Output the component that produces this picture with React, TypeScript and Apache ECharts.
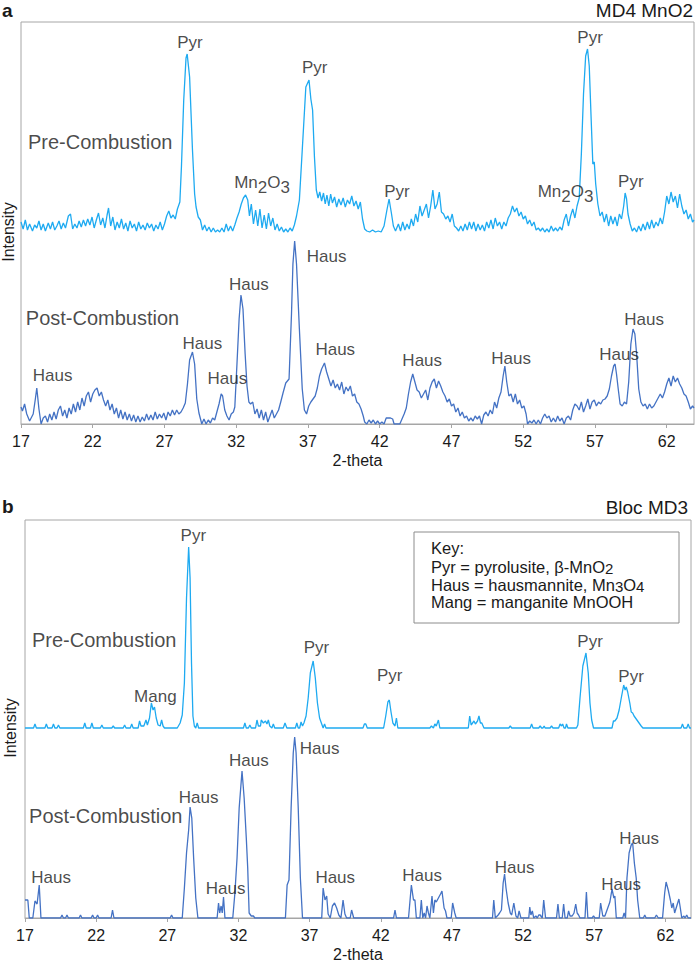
import React, { useEffect, useRef } from "react";
import * as echarts from "echarts";

// ---------- data ----------
const X_TICKS = [17, 22, 27, 32, 37, 42, 47, 52, 57, 62];
const PRE_OFFSET_A = 190;
const PRE_OFFSET_B = 190;

// Panel a – MD4 MnO2, pre-combustion (height above its own baseline)
const preA: number[][] = [
[17.0,12],[17.15,5],[17.3,14],[17.45,4],[17.6,10],[17.8,3],[17.95,9],[18.1,6],[18.25,13],[18.4,4],[18.55,10],[18.7,3],[18.9,11],[19.05,5],[19.2,12],[19.35,4],[19.5,8],[19.65,13],[19.8,5],[19.95,11],[20.1,6],[20.3,18],[20.45,20],[20.6,5],[20.75,10],[20.9,6],[21.05,13],[21.2,7],[21.35,14],[21.5,8],[21.65,15],[21.8,9],[21.95,17],[22.1,6],[22.25,14],[22.4,21],[22.55,9],[22.7,16],[22.85,6],[23.0,19],[23.1,26],[23.25,8],[23.4,17],[23.55,4],[23.7,12],[23.85,6],[24.0,15],[24.15,5],[24.3,11],[24.45,3],[24.6,13],[24.75,6],[24.9,10],[25.05,3],[25.2,12],[25.35,5],[25.5,9],[25.65,4],[25.8,11],[25.95,6],[26.1,10],[26.25,3],[26.4,9],[26.55,5],[26.7,12],[26.85,4],[27.0,10],[27.15,18],[27.3,23],[27.45,16],[27.6,19],[27.75,15],[27.9,25],[28.07,32],[28.18,67],[28.34,134],[28.5,176],[28.58,180],[28.75,157],[28.95,84],[29.1,40],[29.2,27],[29.35,17],[29.5,14],[29.65,4],[29.8,9],[29.95,3],[30.1,7],[30.25,2],[30.4,6],[30.55,2],[30.7,4],[30.85,2],[31.0,6],[31.15,2],[31.3,10],[31.45,3],[31.6,8],[31.75,3],[31.9,9],[32.05,16],[32.2,22],[32.35,30],[32.5,36],[32.65,39],[32.8,34],[32.92,18],[33.05,30],[33.2,10],[33.35,24],[33.5,8],[33.65,25],[33.8,6],[33.95,19],[34.1,5],[34.25,21],[34.4,8],[34.55,16],[34.7,4],[34.85,10],[35.0,3],[35.15,7],[35.3,2],[35.45,5],[35.6,2],[35.75,6],[35.9,3],[36.05,9],[36.2,18],[36.4,34],[36.6,84],[36.85,147],[37.07,154],[37.2,135],[37.32,124],[37.45,77],[37.58,44],[37.7,36],[37.82,42],[37.95,33],[38.08,41],[38.2,30],[38.32,39],[38.45,28],[38.58,40],[38.7,31],[38.85,37],[39.0,27],[39.15,35],[39.3,29],[39.45,36],[39.6,27],[39.75,34],[39.9,30],[40.05,38],[40.2,28],[40.35,33],[40.5,25],[40.65,32],[40.8,15],[40.95,5],[41.1,3],[41.3,2],[41.5,4],[41.7,2],[41.9,3],[42.1,2],[42.3,8],[42.5,24],[42.65,35],[42.8,22],[42.95,8],[43.1,3],[43.3,10],[43.45,3],[43.6,12],[43.75,4],[43.9,10],[44.05,5],[44.2,15],[44.35,8],[44.5,20],[44.65,12],[44.8,28],[44.95,18],[45.1,24],[45.25,30],[45.4,16],[45.55,28],[45.7,44],[45.85,25],[46.0,30],[46.15,42],[46.3,22],[46.45,20],[46.6,15],[46.75,18],[46.9,12],[47.05,20],[47.2,8],[47.35,6],[47.5,3],[47.65,8],[47.8,3],[47.95,10],[48.1,4],[48.25,12],[48.4,5],[48.55,12],[48.7,3],[48.85,10],[49.0,4],[49.15,9],[49.3,3],[49.45,12],[49.6,6],[49.75,14],[49.9,5],[50.05,16],[50.2,8],[50.35,12],[50.5,5],[50.65,12],[50.8,8],[50.95,16],[51.1,20],[51.25,28],[51.4,22],[51.55,26],[51.7,18],[51.85,22],[52.0,15],[52.15,18],[52.3,10],[52.45,14],[52.6,8],[52.75,12],[52.9,4],[53.05,6],[53.2,3],[53.35,6],[53.5,2],[53.65,5],[53.8,2],[53.95,8],[54.1,3],[54.25,6],[54.4,3],[54.55,7],[54.7,4],[54.85,14],[55.0,20],[55.15,8],[55.3,18],[55.45,25],[55.6,16],[55.75,28],[55.9,36],[56.05,80],[56.2,140],[56.35,178],[56.48,185],[56.6,168],[56.72,120],[56.85,70],[56.95,72],[57.05,50],[57.2,30],[57.35,18],[57.5,22],[57.65,12],[57.8,20],[57.95,8],[58.1,18],[58.25,10],[58.4,17],[58.55,8],[58.7,20],[58.85,15],[59.0,28],[59.1,41],[59.2,35],[59.3,20],[59.45,10],[59.6,3],[59.75,6],[59.9,2],[60.05,8],[60.2,3],[60.35,10],[60.5,4],[60.65,12],[60.8,5],[60.95,14],[61.1,6],[61.25,12],[61.4,8],[61.55,16],[61.7,10],[61.85,22],[62.0,38],[62.15,30],[62.3,42],[62.45,32],[62.6,38],[62.75,26],[62.9,40],[63.05,28],[63.2,20],[63.35,24],[63.5,15],[63.65,20],[63.8,12],[63.9,14]
];

// Panel a – post-combustion
const postA: number[][] = [
[17.0,17],[17.1,13],[17.25,20],[17.4,10],[17.6,3],[17.85,10],[18.0,25],[18.1,36],[18.25,15],[18.4,0],[18.55,6],[18.7,8],[18.85,2],[19.0,10],[19.15,4],[19.3,12],[19.45,5],[19.6,14],[19.75,18],[19.9,8],[20.05,14],[20.2,6],[20.35,16],[20.5,10],[20.65,20],[20.8,12],[20.95,22],[21.1,14],[21.25,26],[21.4,18],[21.55,28],[21.7,32],[21.85,22],[22.0,30],[22.15,34],[22.3,36],[22.45,28],[22.6,32],[22.75,24],[22.9,18],[23.05,24],[23.2,14],[23.35,20],[23.5,10],[23.65,16],[23.8,6],[23.95,14],[24.1,5],[24.25,12],[24.4,4],[24.55,10],[24.7,3],[24.85,9],[25.0,2],[25.15,8],[25.3,2],[25.45,7],[25.6,3],[25.75,10],[25.9,4],[26.05,9],[26.2,4],[26.35,12],[26.5,5],[26.65,10],[26.8,6],[26.95,11],[27.1,4],[27.25,12],[27.4,8],[27.55,14],[27.7,9],[27.85,14],[28.0,10],[28.15,12],[28.3,16],[28.45,21],[28.6,40],[28.75,64],[28.95,72],[29.1,60],[29.25,25],[29.4,11],[29.6,0],[29.75,5],[29.9,0],[30.05,4],[30.2,1],[30.35,6],[30.5,4],[30.65,12],[30.8,20],[30.95,30],[31.05,28],[31.2,14],[31.35,8],[31.5,4],[31.65,10],[31.8,12],[31.9,17],[32.05,60],[32.2,105],[32.33,129],[32.47,115],[32.62,70],[32.75,38],[32.88,22],[33.0,20],[33.15,22],[33.3,10],[33.45,15],[33.6,6],[33.75,14],[33.9,4],[34.05,12],[34.2,2],[34.35,8],[34.5,14],[34.65,6],[34.8,10],[34.95,14],[35.1,22],[35.26,31],[35.45,41],[35.68,45],[35.85,110],[35.95,160],[36.07,183],[36.2,160],[36.4,95],[36.6,35],[36.75,14],[36.9,10],[37.05,18],[37.2,22],[37.35,25],[37.5,28],[37.65,36],[37.8,48],[37.95,55],[38.15,61],[38.3,52],[38.45,45],[38.6,38],[38.75,44],[38.9,36],[39.05,40],[39.2,34],[39.35,42],[39.5,30],[39.65,37],[39.8,33],[39.95,38],[40.1,28],[40.25,30],[40.4,22],[40.55,20],[40.7,15],[40.85,8],[40.95,2],[41.1,0],[41.25,4],[41.4,1],[41.55,4],[41.7,0],[41.85,3],[42.0,0],[42.15,2],[42.3,0],[42.45,6],[42.6,6],[42.75,6],[42.9,5],[43.0,0],[43.2,0],[43.4,0],[43.55,5],[43.7,10],[43.85,16],[44.0,30],[44.15,42],[44.3,50],[44.45,42],[44.6,34],[44.75,32],[44.9,26],[45.05,30],[45.2,34],[45.35,24],[45.5,36],[45.65,42],[45.8,45],[45.95,36],[46.1,43],[46.25,38],[46.4,32],[46.55,28],[46.7,22],[46.85,25],[47.0,18],[47.15,20],[47.3,12],[47.45,16],[47.6,8],[47.75,12],[47.9,6],[48.05,8],[48.2,3],[48.35,6],[48.5,3],[48.65,8],[48.8,5],[48.95,8],[49.1,0],[49.25,9],[49.4,12],[49.55,8],[49.7,14],[49.85,10],[50.0,22],[50.15,16],[50.3,26],[50.45,32],[50.6,48],[50.72,58],[50.85,42],[51.0,28],[51.15,30],[51.3,22],[51.45,30],[51.6,20],[51.75,24],[51.9,16],[52.05,18],[52.2,10],[52.3,0],[52.45,3],[52.6,1],[52.75,4],[52.9,0],[53.05,4],[53.2,0],[53.35,6],[53.5,10],[53.65,6],[53.8,8],[53.95,2],[54.1,6],[54.25,2],[54.4,8],[54.55,3],[54.7,6],[54.85,0],[55.0,6],[55.15,8],[55.3,4],[55.45,14],[55.6,20],[55.75,18],[55.9,14],[56.05,22],[56.2,12],[56.35,18],[56.5,25],[56.65,15],[56.8,22],[56.95,24],[57.1,18],[57.25,22],[57.4,20],[57.55,24],[57.7,25],[57.85,28],[58.0,35],[58.15,48],[58.3,58],[58.4,60],[58.5,50],[58.62,35],[58.75,20],[58.9,18],[59.05,22],[59.2,20],[59.35,42],[59.5,80],[59.65,95],[59.78,90],[59.9,70],[60.05,35],[60.2,22],[60.35,18],[60.5,20],[60.65,15],[60.8,20],[60.95,16],[61.1,18],[61.25,22],[61.4,26],[61.55,30],[61.7,26],[61.85,32],[62.0,40],[62.15,46],[62.3,38],[62.45,48],[62.6,42],[62.75,46],[62.9,40],[63.05,36],[63.2,30],[63.35,28],[63.5,22],[63.65,15],[63.8,18],[63.9,16]
];

// Panel b – Bloc MD3, pre-combustion (height above its own baseline)
const preB: number[][] = [
[17.0,0],[17.6,0],[17.7,4],[17.8,0],[18.4,0],[18.5,4],[18.6,0],[18.9,0],[19.0,4],[19.1,0],[19.25,0],[19.35,3],[19.45,0],[21.1,0],[21.2,5],[21.3,0],[21.6,0],[21.7,5],[21.8,0],[22.3,0],[22.4,3],[22.5,0],[23.1,0],[23.2,2],[23.3,0],[23.9,0],[24.0,3],[24.1,0],[24.4,0],[24.5,4],[24.6,0],[24.95,0],[25.05,7],[25.15,2],[25.35,2],[25.5,8],[25.6,3],[25.75,10],[25.88,25],[26.0,18],[26.1,21],[26.22,10],[26.35,3],[26.5,2],[26.6,8],[26.7,2],[26.8,0],[27.7,0],[27.9,5],[28.05,13],[28.2,45],[28.35,130],[28.5,181],[28.6,150],[28.7,65],[28.8,12],[28.9,2],[29.0,0],[29.1,5],[29.2,0],[32.35,0],[32.45,5],[32.55,0],[32.7,0],[32.8,3],[32.9,0],[33.2,0],[33.3,8],[33.4,2],[33.55,2],[33.6,8],[33.75,5],[33.9,7],[34.0,4],[34.1,8],[34.2,2],[34.35,0],[34.45,4],[34.55,0],[35.15,0],[35.27,5],[35.4,0],[36.0,0],[36.1,5],[36.2,0],[36.3,0],[36.4,6],[36.5,2],[36.6,5],[36.75,12],[36.9,30],[37.05,55],[37.25,67],[37.4,50],[37.55,25],[37.7,10],[37.85,4],[37.95,0],[38.05,4],[38.15,0],[40.75,0],[40.85,4],[40.95,4],[41.05,0],[42.2,0],[42.35,12],[42.5,26],[42.6,28],[42.72,16],[42.85,5],[43.0,2],[43.1,10],[43.2,0],[45.45,0],[45.56,2],[45.7,0],[45.8,4],[45.9,2],[46.05,8],[46.15,0],[48.15,0],[48.25,12],[48.35,3],[48.45,5],[48.55,7],[48.65,4],[48.8,7],[48.9,12],[49.0,5],[49.1,5],[49.25,0],[51.0,0],[51.1,2],[51.2,0],[52.5,0],[52.6,4],[52.7,0],[53.1,0],[53.2,2],[53.3,0],[53.4,0],[53.48,2],[53.55,0],[53.9,0],[54.0,2],[54.1,0],[54.5,0],[54.6,4],[54.7,2],[54.78,4],[54.88,0],[54.98,0],[55.05,4],[55.15,0],[55.75,0],[55.85,3],[56.0,30],[56.2,62],[56.42,75],[56.58,55],[56.7,25],[56.82,8],[56.95,0],[58.25,0],[58.35,7],[58.45,7],[58.6,10],[58.75,18],[58.9,30],[59.07,43],[59.17,38],[59.25,41],[59.35,36],[59.5,25],[59.6,16],[59.7,15],[59.8,12],[59.9,10],[60.0,8],[60.15,5],[60.3,2],[60.42,0],[63.1,0],[63.2,4],[63.3,0],[63.5,0],[63.6,4],[63.7,0],[63.8,0]
];

// Panel b – post-combustion
const postB: number[][] = [
[17.0,18],[17.2,18],[17.3,0],[17.55,0],[17.7,17],[17.85,14],[18.0,33],[18.12,0],[19.5,0],[19.6,3],[19.7,0],[19.85,0],[19.95,3],[20.05,0],[20.8,0],[20.9,3],[21.0,0],[21.65,0],[21.75,3],[21.85,0],[22.0,0],[22.1,3],[22.2,0],[23.05,0],[23.15,8],[23.25,0],[27.2,0],[27.3,3],[27.4,0],[28.05,0],[28.2,30],[28.35,65],[28.5,88],[28.6,111],[28.72,100],[28.85,60],[29.0,20],[29.15,0],[30.5,0],[30.6,15],[30.68,5],[30.78,12],[30.86,5],[30.95,21],[31.05,0],[31.6,0],[31.75,25],[31.9,60],[32.05,110],[32.25,147],[32.4,120],[32.55,80],[32.65,50],[32.75,5],[32.9,2],[33.05,2],[33.15,0],[35.3,0],[35.42,33],[35.55,38],[35.7,110],[35.85,165],[35.95,181],[36.05,165],[36.2,110],[36.35,40],[36.5,0],[37.85,0],[37.95,30],[38.08,18],[38.2,22],[38.3,4],[38.45,0],[38.6,12],[38.75,15],[38.9,10],[39.05,3],[39.2,0],[39.35,18],[39.48,4],[39.6,0],[39.85,0],[39.95,8],[40.1,0],[42.9,0],[43.0,8],[43.1,0],[43.95,0],[44.15,33],[44.3,18],[44.4,18],[44.5,0],[44.75,0],[44.85,18],[44.95,0],[45.05,5],[45.15,0],[45.25,12],[45.35,5],[45.45,0],[45.6,22],[45.7,5],[45.8,18],[45.9,16],[46.05,20],[46.2,24],[46.3,27],[46.45,10],[46.55,7],[46.65,0],[46.95,0],[47.05,15],[47.2,5],[47.3,0],[49.85,0],[49.94,18],[50.05,0],[50.25,3],[50.35,5],[50.48,8],[50.6,35],[50.7,44],[50.8,30],[50.95,15],[51.1,5],[51.2,3],[51.35,15],[51.5,2],[51.62,0],[51.72,7],[51.85,0],[52.4,0],[52.47,11],[52.55,3],[52.65,7],[52.75,0],[52.9,2],[53.0,0],[53.1,3],[53.2,3],[53.35,0],[53.45,18],[53.58,0],[54.35,0],[54.45,14],[54.55,0],[54.75,0],[54.85,14],[54.95,0],[55.1,0],[55.2,7],[55.3,2],[55.45,2],[55.58,5],[55.7,14],[55.8,5],[55.9,3],[56.0,0],[56.35,0],[56.45,26],[56.55,0],[56.85,0],[56.95,2],[57.05,0],[57.35,0],[57.45,15],[57.6,2],[57.75,2],[57.95,10],[58.1,16],[58.25,29],[58.38,20],[58.45,22],[58.55,0],[59.0,0],[59.1,5],[59.2,0],[59.3,40],[59.45,65],[59.6,73],[59.7,75],[59.82,55],[59.95,40],[60.05,18],[60.2,0],[60.45,0],[60.55,3],[60.65,0],[61.25,0],[61.37,3],[61.5,0],[61.8,0],[61.95,25],[62.05,36],[62.2,28],[62.35,18],[62.45,10],[62.55,15],[62.65,5],[62.8,12],[62.95,19],[63.05,10],[63.15,0],[63.3,2],[63.38,0],[63.5,3],[63.6,0],[63.8,0]
];

// peak annotations: [text, x (2-theta), y (intensity units), kind]
const labelsA: [string, number, number, string?][] = [
  ["Pyr", 28.77, 382], ["Pyr", 37.47, 357], ["Mn_2O_3", 33.8, 237], ["Pyr", 43.2, 233],
  ["Mn_2O_3", 54.95, 228], ["Pyr", 56.66, 387], ["Pyr", 59.5, 243],
  ["Haus", 19.2, 49], ["Haus", 29.64, 81], ["Haus", 31.38, 46], ["Haus", 32.88, 140],
  ["Haus", 38.3, 168], ["Haus", 38.9, 75], ["Haus", 44.96, 64], ["Haus", 51.16, 66],
  ["Haus", 58.68, 70], ["Haus", 60.42, 105],
  ["Pre-Combustion", 17.45, 282, "name"], ["Post-Combustion", 17.3, 106, "name"],
];
const labelsB: [string, number, number, string?][] = [
  ["Pyr", 28.83, 383], ["Pyr", 37.48, 271], ["Mang", 26.16, 222], ["Pyr", 42.63, 243],
  ["Pyr", 56.71, 277], ["Pyr", 59.59, 242],
  ["Haus", 18.83, 41], ["Haus", 29.2, 121], ["Haus", 31.1, 30], ["Haus", 32.73, 158],
  ["Haus", 37.7, 170], ["Haus", 38.8, 41], ["Haus", 44.91, 43], ["Haus", 51.41, 51],
  ["Haus", 58.89, 34], ["Haus", 60.16, 80],
  ["Pre-Combustion", 17.45, 278, "name"], ["Post-Combustion", 17.25, 102, "name"],
];
const keyLines = ["Key:", "Pyr = pyrolusite, β-MnO_2", "Haus = hausmannite, Mn_3O_4", "Mang = manganite MnOOH"];

// ---------- styles ----------
const FONT = '"Liberation Sans", Arial, Helvetica, sans-serif';
const TEXT = "#1a1a1a";
const PRE_COLOR = "#1eaaf1";
const POST_COLOR = "#4472c4";
const FRAME = "#a6a6a6";

function subRich(t: string): string {
  const parts = t.split(/_(\d)/);
  return parts.map((p, i) => (i % 2 ? `{s|${p}}` : p ? `{n|${p}}` : "")).join("");
}
function richStyles(size: number, subSize: number, baseLH: number, subLH: number) {
  return {
    n: { fontSize: size, lineHeight: baseLH, verticalAlign: "top", fontFamily: FONT, color: TEXT, fill: TEXT },
    s: { fontSize: subSize, lineHeight: subLH, fontFamily: FONT, color: TEXT, fill: TEXT },
  };
}

function labelSeries(list: [string, number, number, string?][], idx: number) {
  return {
    type: "scatter",
    xAxisIndex: idx,
    yAxisIndex: idx,
    symbolSize: 1,
    silent: true,
    z: 5,
    itemStyle: { color: "rgba(0,0,0,0)" },
    data: list.map(([t, x, y, kind]) => {
      const isName = kind === "name";
      const hasSub = t.includes("_");
      const str = hasSub ? subRich(t) : t;
      return {
        value: [x, y],
        label: {
          show: true,
          position: isName ? "right" : "inside",
          distance: 0,
          formatter: () => str,
          fontFamily: FONT,
          fontSize: isName ? 20 : 17,
          color: TEXT,
          textBorderWidth: 0,
          rich: hasSub ? richStyles(17, 17, 18, 26) : undefined,
        },
      };
    }),
  };
}

function lineSeries(data: number[][], offset: number, idx: number, color: string) {
  return {
    type: "line",
    xAxisIndex: idx,
    yAxisIndex: idx,
    data: data.map(([x, y]) => [x, y + offset]),
    symbol: "none",
    smooth: false,
    lineStyle: { color, width: 1.3 },
    z: 3,
  };
}

function xAxis(idx: number, max: number) {
  return {
    type: "value",
    gridIndex: idx,
    min: 17,
    max,
    axisLine: { show: true, lineStyle: { color: FRAME, width: 1 } },
    axisTick: { show: true, customValues: X_TICKS, length: 4, lineStyle: { color: FRAME } },
    axisLabel: { customValues: X_TICKS, fontSize: 16, margin: 9, color: TEXT, fontFamily: FONT },
    splitLine: { show: false },
    name: "2-theta",
    nameLocation: "middle",
    nameGap: 28,
    nameTextStyle: { fontSize: 16, color: TEXT, fontFamily: FONT },
  };
}

export default function App() {
  const ref = useRef<HTMLDivElement>(null);
  useEffect(() => {
    if (!ref.current) return;
    const chart = echarts.init(ref.current, undefined, { renderer: "svg", width: 697, height: 963 });

    const keyX = 431;
    const keyY = [548, 566, 584, 602];
    const keyText = keyLines.map((t, i) => {
      const hasSub = t.includes("_");
      return {
        type: "text",
        x: keyX,
        y: keyY[i] + (hasSub ? 2 : 0),
        z: 11,
        style: {
          text: hasSub ? subRich(t) : t,
          rich: hasSub ? richStyles(16.5, 15, 16, 20) : undefined,
          font: `16.5px ${FONT}`,
          fill: TEXT,
          textAlign: "left",
          textVerticalAlign: "middle",
          align: "left",
          verticalAlign: "middle",
        },
      };
    });

    const option: any = {
      animation: false,
      backgroundColor: "#ffffff",
      grid: [
        { left: 21, top: 22, width: 673, height: 402, show: true, borderColor: FRAME, borderWidth: 1, backgroundColor: "transparent" },
        { left: 25, top: 520, width: 666, height: 398, show: true, borderColor: FRAME, borderWidth: 1, backgroundColor: "transparent" },
      ],
      xAxis: [xAxis(0, 63.9), xAxis(1, 63.8)],
      yAxis: [
        { type: "value", gridIndex: 0, min: 0, max: 402, show: false, splitLine: { show: false } },
        { type: "value", gridIndex: 1, min: 0, max: 398, show: false, splitLine: { show: false } },
      ],
      series: [
        lineSeries(preA, PRE_OFFSET_A, 0, PRE_COLOR),
        lineSeries(postA, 0, 0, POST_COLOR),
        lineSeries(preB, PRE_OFFSET_B, 1, PRE_COLOR),
        lineSeries(postB, 0, 1, POST_COLOR),
        labelSeries(labelsA, 0),
        labelSeries(labelsB, 1),
      ],
      graphic: [
        { type: "text", x: 2, y: 10, style: { text: "a", font: `bold 19px ${FONT}`, fill: TEXT, textVerticalAlign: "middle", verticalAlign: "middle" } },
        { type: "text", x: 2, y: 506, style: { text: "b", font: `bold 19px ${FONT}`, fill: TEXT, textVerticalAlign: "middle", verticalAlign: "middle" } },
        { type: "text", x: 693, y: 10, style: { text: "MD4 MnO2", font: `19px ${FONT}`, fill: TEXT, textAlign: "right", align: "right", textVerticalAlign: "middle", verticalAlign: "middle" } },
        { type: "text", x: 688, y: 507, style: { text: "Bloc MD3", font: `19px ${FONT}`, fill: TEXT, textAlign: "right", align: "right", textVerticalAlign: "middle", verticalAlign: "middle" } },
        { type: "text", x: 8, y: 232, rotation: Math.PI / 2, style: { text: "Intensity", font: `16px ${FONT}`, fill: TEXT, textAlign: "center", align: "center", textVerticalAlign: "middle", verticalAlign: "middle" } },
        { type: "text", x: 10, y: 728, rotation: Math.PI / 2, style: { text: "Intensity", font: `16px ${FONT}`, fill: TEXT, textAlign: "center", align: "center", textVerticalAlign: "middle", verticalAlign: "middle" } },
        { type: "rect", z: 10, shape: { x: 414, y: 532, width: 265, height: 91 }, style: { fill: "none", stroke: "#8c8c8c", lineWidth: 1 } },
        ...keyText,
      ],
    };
    chart.setOption(option);
    return () => chart.dispose();
  }, []);
  return <div ref={ref} style={{ position: "absolute", left: 0, top: 0, width: 697, height: 963 }} />;
}
